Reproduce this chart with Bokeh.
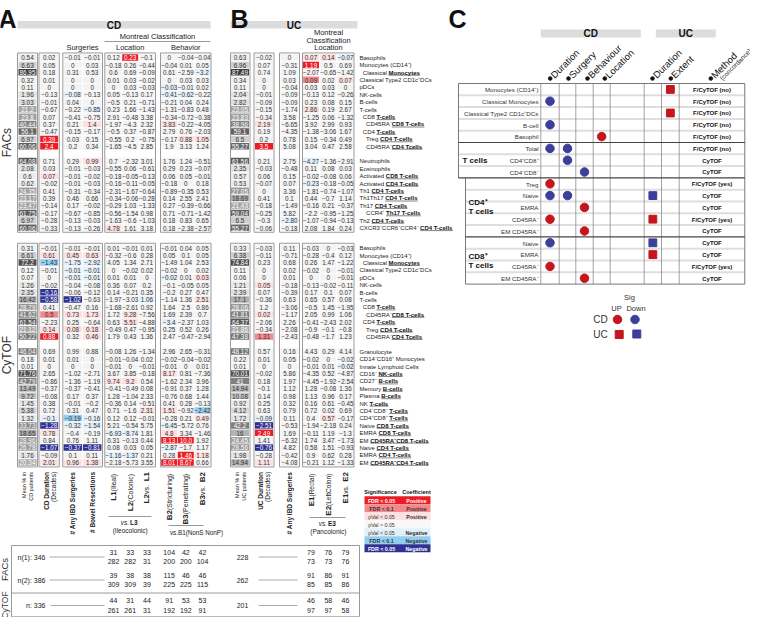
import math
from collections import defaultdict
from bokeh.plotting import figure
from bokeh.models import Range1d, ColumnDataSource
from bokeh.embed import file_html
from bokeh.resources import INLINE
from bokeh.core.properties import value

FONT = "Liberation Sans"

# ------------------------------------------------------------------ data
# Panel A (CD): mean %, duration, any IBD surgeries, bowel resections,
# L1, L2, L2vsL1, B2, B3, B3vsB2
A_FACS_1 = [
    ["0.54", "0.02", "-0.01", "-0.01", "0.12", "0.23", "-0.1", "0", "-0.04", "-0.04"],
    ["6.63", "0.05", "0", "0.03", "-0.18", "0.26", "-0.44", "-0.04", "0.01", "0.05"],
    ["86.95", "0.18", "0.31", "0.53", "0.6", "0.69", "-0.09", "0.61", "-2.59", "-3.2"],
    ["0.32", "0.01", "0", "0", "0.01", "0.03", "-0.02", "0", "0.03", "0.03"],
    ["0.11", "0", "0", "0", "0", "0.03", "-0.03", "-0.03", "-0.01", "0.02"],
    ["1.96", "-0.13", "-0.08", "-0.13", "0.05", "-0.13", "0.17", "-0.41", "-0.62", "-0.22"],
    ["3.03", "-0.01", "0.04", "0", "-0.5", "0.21", "-0.71", "-0.21", "0.04", "0.24"],
    ["21.2", "-0.67", "-0.22", "-0.85", "0.23", "1.66", "-1.43", "-1.31", "-0.83", "0.48"],
    ["23.8", "0.07", "-0.41", "-0.75", "2.91", "-0.48", "3.38", "-0.34", "-0.72", "-0.38"],
    ["40.44", "0.37", "0.21", "1.4", "-1.97", "-4.3", "2.32", "3.83", "-0.22", "-4.05"],
    ["56.1", "-0.47", "-0.15", "-0.17", "-0.5", "0.37", "-0.87", "2.79", "0.76", "-2.03"],
    ["6.97", "0.39", "0.03", "0.15", "-0.55", "0.2", "-0.75", "-0.17", "0.88", "1.05"],
    ["60.06", "2.4", "0.2", "0.34", "-1.65", "-4.5", "2.85", "1.9", "3.13", "1.24"],
]
A_FACS_1_SIG = ["0000F0000", "000000000", "00000000n", "000000000", "000000n00",
                "0n0000nn0", "000000000", "00n000000", "000000000", "00p000p00",
                "000000000", "F000000pp", "F00000000"]
A_FACS_2 = [
    ["64.08", "0.71", "0.29", "0.99", "0.7", "-2.32", "3.01", "1.76", "1.24", "-0.51"],
    ["2.08", "0.03", "-0.01", "-0.03", "-0.55", "0.06", "-0.61", "0.29", "0.23", "-0.07"],
    ["0.6", "0.07", "-0.01", "-0.02", "-0.18", "-0.05", "-0.13", "0.06", "0.05", "-0.01"],
    ["0.62", "-0.02", "-0.01", "-0.03", "-0.16", "-0.11", "-0.05", "-0.18", "0", "0.18"],
    ["24.35", "0.41", "-0.31", "-0.34", "-2.31", "-1.67", "-0.64", "-0.89", "-0.35", "0.53"],
    ["23.17", "0.39", "0.46", "0.66", "-0.34", "-0.06", "-0.28", "0.14", "2.55", "2.41"],
    ["23.47", "-0.14", "0.17", "-0.02", "-0.29", "1.03", "-1.33", "0.27", "-0.39", "-0.66"],
    ["61.75", "-0.17", "-0.67", "-0.85", "-0.56", "-1.54", "0.98", "0.71", "-0.71", "-1.42"],
    ["6.97", "-0.28", "-0.13", "-0.03", "-1.63", "-0.6", "-1.03", "0.18", "0.83", "0.65"],
    ["60.06", "-0.33", "-0.13", "-0.26", "4.78", "1.61", "3.18", "0.18", "-2.38", "-2.57"],
]
A_FACS_2_SIG = ["00p000000", "000000000", "p00000000", "000000000", "000000000",
                "000000000", "000000000", "000000000", "000000000", "000p00000"]
A_CYTOF_1 = [
    ["0.31", "-0.01", "-0.01", "-0.01", "0.01", "-0.01", "0.01", "-0.01", "0.04", "0.05"],
    ["6.61", "0.61", "0.45", "0.63", "-0.32", "-0.6", "0.28", "0.05", "0.1", "0.05"],
    ["72.2", "-1.43", "-1.75", "-2.92", "4.05", "1.34", "2.71", "-1.49", "1.04", "2.53"],
    ["0.12", "-0.01", "-0.01", "-0.01", "0", "-0.02", "0.02", "-0.02", "0", "0.02"],
    ["0.07", "0", "-0.01", "-0.01", "0.01", "0.01", "0", "-0.02", "0.01", "0.03"],
    ["1.26", "-0.02", "-0.04", "-0.08", "0.36", "0.07", "0.2", "-0.1", "-0.05", "0.05"],
    ["2.35", "-0.16", "-0.06", "-0.12", "0.14", "-0.21", "0.35", "-0.2", "0.27", "0.47"],
    ["16.42", "-0.58", "-1.02", "-0.63", "-1.97", "-3.03", "1.06", "-1.14", "1.36", "2.51"],
    ["28.79", "0.41", "-0.47", "0.16", "-1.68", "-2.61", "0.92", "1.64", "2.5", "0.86"],
    ["41.62", "0.5", "0.73", "1.73", "1.72", "9.28", "-7.56", "1.69", "2.39", "0.7"],
    ["61.54", "-2.23", "0.25", "-0.64", "0.63", "5.51", "-4.88", "-3.4", "-2.37", "1.03"],
    ["21.12", "0.14", "0.08", "0.18", "-0.49", "0.47", "-0.95", "0.25", "0.52", "0.26"],
    ["50.22", "0.88", "0.32", "0.46", "1.79", "0.43", "1.36", "2.47", "-0.47", "-2.94"],
]
A_CYTOF_1_SIG = ["000000000", "ppp000000", "bnn000000", "0nn000000", "0nn000n0p",
                 "000000000", "B00000000", "BB000n00p", "000000000", "fpp0p0000",
                 "0000p0n00", "ppp000000", "F0p000000"]
A_CYTOF_2 = [
    ["46.04", "0.69", "0.99", "0.88", "-0.08", "1.26", "-1.34", "2.96", "2.65", "-0.31"],
    ["0.18", "0.01", "0.01", "0", "-0.01", "-0.04", "0.02", "-0.02", "-0.04", "-0.02"],
    ["0.01", "0", "0", "0", "-0.01", "0", "-0.01", "-0.01", "0", "0.01"],
    ["71.76", "2.65", "-1.02", "-2.71", "3.67", "3.85", "-0.18", "8.17", "0.81", "-7.36"],
    ["42.79", "-0.86", "-1.36", "-1.19", "9.74", "9.2", "0.54", "-1.62", "2.34", "3.96"],
    ["13.49", "-0.37", "-0.37", "-0.41", "-0.41", "-0.49", "0.08", "-0.91", "0.37", "1.28"],
    ["9.72", "-0.08", "0.17", "0.37", "1.28", "-1.04", "2.33", "-0.76", "0.68", "1.44"],
    ["1.45", "0.38", "-0.01", "-0.2", "-0.36", "0.14", "-0.51", "0.41", "0.28", "-0.13"],
    ["5.38", "0.72", "0.31", "0.47", "0.71", "-1.6", "2.31", "1.51", "-0.92", "-2.42"],
    ["1.32", "-0.1", "-0.19", "-0.16", "0.12", "0.12", "-0.01", "-0.28", "0.21", "0.49"],
    ["33.73", "-1.28", "-0.32", "-1.54", "5.21", "-0.54", "5.75", "-6.45", "-5.72", "0.76"],
    ["18.65", "0.78", "-0.4", "-0.19", "-6.93", "-8.74", "1.81", "4.8", "3.34", "-1.46"],
    ["28.96", "0.84", "0.76", "1.11", "0.31", "-0.13", "0.44", "8.13", "10.0", "1.92"],
    ["26.78", "-1.07", "-0.37", "-0.81", "0.08", "0.03", "0.05", "-2.87", "-1.7", "1.17"],
    ["1.76", "-0.09", "0.1", "0.11", "-1.16", "-1.37", "0.21", "0.28", "1.46", "1.18"],
    ["20.34", "2.01", "0.96", "1.38", "-2.18", "-5.73", "3.55", "8.01", "8.67", "0.66"],
]
A_CYTOF_2_SIG = ["000000000", "000000000", "000000000", "000000p00", "000pp0000",
                 "000000000", "000000000", "000000000", "00000pp0b", "nbn00000p",
                 "Bnn000n00", "p00nn0p00", "000000FF0", "BBB000n00", "000nn00Fp",
                 "ppp000FF0"]

# Panel B (UC): mean %, duration, any IBD surgeries, E1, E2, E1vsE2
B_FACS_1 = [
    ["0.63", "-0.02", "0", "0.07", "0.14", "-0.07"],
    ["6.96", "0.07", "-0.31", "1.19", "0.5", "0.69"],
    ["87.49", "0.74", "1.09", "-2.07", "-0.65", "-1.42"],
    ["0.34", "0", "0.03", "0.09", "0.02", "0.07"],
    ["0.11", "0", "-0.04", "0.03", "0.03", "0"],
    ["2.04", "-0.01", "-0.09", "-0.13", "0.12", "-0.26"],
    ["2.82", "-0.09", "-0.09", "0.23", "0.08", "0.15"],
    ["23.05", "-0.15", "-1.74", "2.86", "0.19", "2.67"],
    ["23.83", "-0.34", "3.58", "-1.25", "0.06", "-1.32"],
    ["38.96", "2.19", "-6.65", "3.92", "2.99", "0.93"],
    ["59.1", "0.19", "-4.35", "-1.38", "-3.06", "1.67"],
    ["6.5", "0.2", "0.78", "0.15", "-0.34", "0.49"],
    ["55.27", "3.5", "5.08", "3.04", "0.47", "2.58"],
]
B_FACS_1_SIG = ["00ppn", "00F00", "00000", "00f0p", "00000", "00000", "00000",
                "00p00", "00000", "p0000", "00000", "00000", "F0000"]
B_FACS_2 = [
    ["61.56", "0.21", "2.75", "-4.27", "-1.36", "-2.91"],
    ["2.35", "-0.03", "-0.48", "0.11", "0.08", "0.03"],
    ["0.57", "0.06", "0.15", "-0.02", "-0.08", "0.06"],
    ["0.53", "-0.07", "0.07", "-0.23", "-0.18", "-0.05"],
    ["27.05", "0", "3.36", "-1.81", "-0.74", "-1.07"],
    ["18.69", "0.41", "0.1", "0.44", "-0.7", "1.14"],
    ["21.43", "-0.18", "-1.49", "-0.16", "0.21", "-0.37"],
    ["59.04", "-0.25", "5.82", "-2.2", "-0.95", "-1.25"],
    ["6.5", "-0.3", "-2.80", "-1.07", "-0.94", "-0.13"],
    ["55.27", "-0.06", "-0.18", "2.08", "1.84", "0.24"],
]
B_FACS_2_SIG = ["00n00", "00000", "00000", "00n00", "00000", "00000", "00000",
                "00000", "0n000", "00000"]
B_CYTOF_1 = [
    ["0.33", "-0.03", "0.11", "-0.03", "0", "-0.03"],
    ["6.38", "-0.11", "-0.71", "-0.28", "-0.4", "0.12"],
    ["74.84", "0.23", "0.68", "0.26", "1.47", "-1.22"],
    ["0.11", "0", "0.02", "-0.02", "0", "-0.01"],
    ["0.06", "0", "0.01", "0", "0", "-0.01"],
    ["1.21", "0.05", "-0.18", "-0.13", "-0.02", "-0.11"],
    ["2.39", "0.07", "-0.39", "0.17", "0.1", "0.07"],
    ["17.1", "-0.36", "0.63", "0.65", "0.57", "0.08"],
    ["28.06", "1.2", "-3.06", "-0.5", "1.45", "-1.95"],
    ["41.81", "0.02", "-1.17", "2.05", "0.99", "1.06"],
    ["64.37", "-2.06", "2.26", "-0.41", "-2.43", "2.02"],
    ["21.86", "-0.34", "-2.08", "-0.9", "-0.1", "-0.8"],
    ["47.38", "1.31", "-2.43", "-0.48", "-1.7", "1.23"],
]
B_CYTOF_1_SIG = ["00000", "00000", "00000", "00000", "00000", "p0000", "00000",
                 "00000", "00000", "p0000", "00000", "00000", "f0000"]
B_CYTOF_2 = [
    ["48.12", "0.57", "0.16", "4.43", "0.29", "4.14"],
    ["0.22", "0.01", "0.05", "-0.02", "0", "-0.02"],
    ["0.01", "0", "0", "-0.01", "0.01", "-0.02"],
    ["70.01", "-0.02", "5.86", "-4.35", "0.52", "-4.87"],
    ["41", "0.18", "1.97", "-4.45", "-1.92", "-2.54"],
    ["14.94", "-0.1", "1.12", "1.28", "-0.08", "1.36"],
    ["10.08", "0.14", "0.98", "1.13", "0.96", "0.17"],
    ["0.92", "0.25", "0.32", "0.16", "0.61", "-0.45"],
    ["4.12", "0.63", "0.79", "0.72", "0.02", "0.69"],
    ["1.72", "-0.09", "0.11", "0.4", "0.57", "-0.17"],
    ["42.2", "-2.51", "-0.53", "-1.94", "-2.18", "0.24"],
    ["16", "2.49", "1.69", "-0.11", "1.19", "-1.3"],
    ["24.45", "1.41", "-6.32", "1.74", "3.47", "-1.73"],
    ["28.56", "-0.76", "4.82", "0.58", "1.51", "-0.93"],
    ["1.98", "-0.28", "-0.42", "0.9", "0.62", "0.28"],
    ["14.94", "1.11", "-4.08", "-0.21", "1.12", "-1.33"],
]
B_CYTOF_2_SIG = ["00000", "00000", "0000n", "00000", "00000", "00000", "00000",
                 "00000", "00000", "n00p0", "B0000", "F0000", "00000", "B0000",
                 "00000", "p0000"]

# cell type labels: (indent level, plain part, bold-underlined part)
LABELS_1 = [(0, "Basophils", ""), (0, "Monocytes (CD14\u207a)", ""),
            (1, "Classical ", "Monocytes"), (0, "Classical Type2 CD1c\u207aDCs", ""),
            (0, "pDCs", ""), (0, "NK-cells", ""), (0, "B-cells", ""), (0, "T-cells", ""),
            (1, "CD8 ", "T-cells"), (2, "CD45RA\u207b", "CD8 T-cells"),
            (1, "CD4 ", "T-cells"), (2, "Treg ", "CD4 T-cells"),
            (2, "CD45RA\u207b", "CD4 Tcells")]
LABELS_FACS_2 = [(0, "Neutrophils", ""), (0, "Eosinophils", ""),
                 (0, "Activated ", "CD8 T-cells"), (0, "Activated ", "CD4 T-cells"),
                 (0, "Th1 ", "CD4 T-cells"), (0, "Th1Th17 ", "CD4 T-cells"),
                 (0, "Th17 ", "CD4 T-cells"), (2, "CCR4\u207a ", "Th17 T-cells"),
                 (0, "Th2 ", "CD4 T-cells"),
                 (0, "CXCR3\u207bCCR6\u207bCCR4\u207b ", "CD4 T-cells")]
LABELS_CYTOF_2 = [(0, "Granulocyte", ""), (0, "CD14\u207bCD16\u207a Monocytes", ""),
                  (0, "Innate Lymphoid Cells", ""), (0, "CD16\u207b ", "NK-cells"),
                  (0, "CD27\u207b ", "B-cells"), (0, "Memory ", "B-cells"),
                  (0, "Plasma ", "B-cells"), (0, "NK ", "T-cells"),
                  (0, "CD4\u207bCD8\u207b ", "T-cells"), (0, "CD4\u207aCD8\u207a ", "T-cells"),
                  (0, "Naive ", "CD8 T-cells"), (0, "EMRA ", "CD8 T-cells"),
                  (0, "EM ", "CD45RA\u207bCD8 T-cells"), (0, "Naive ", "CD4 T-cells"),
                  (0, "EMRA ", "CD4 T-cells"), (0, "EM ", "CD45RA\u207bCD4 T-cells")]

# sample-size table
N_FACS1 = ["346", "228"]
N_FACS2 = ["386", "262"]
N_CYTOF = ["336", "201"]
LOC_FACS1 = [["31", "33", "33"], ["282", "282", "31"]]
BEH_FACS1 = [["104", "42", "42"], ["200", "200", "104"]]
EXT_FACS1 = [["79", "76", "79"], ["73", "73", "76"]]
LOC_FACS2 = [["39", "38", "38"], ["309", "309", "39"]]
BEH_FACS2 = [["115", "46", "46"], ["225", "225", "115"]]
EXT_FACS2 = [["91", "86", "91"], ["85", "85", "86"]]
LOC_CYTOF = [["44", "31", "44"], ["261", "261", "31"]]
BEH_CYTOF = [["91", "53", "53"], ["192", "192", "91"]]
EXT_CYTOF = [["46", "58", "46"], ["97", "97", "58"]]

LEGEND_SIG = ["FDR < 0.05", "FDR < 0.1", "pVal < 0.05", "pVal > 0.05", "pVal < 0.05", "FDR < 0.1", "FDR < 0.05"]
LEGEND_COEF = ["Positive", "Positive", "Positive", "", "Negative", "Negative", "Negative"]
LEGEND_CODE = ["F", "f", "p", "0", "n", "b", "B"]

# Panel C summary
C_ROWS = ["Monocytes (CD14\u207a)", "Classical Monocytes", "Classical Type2 CD1c\u207aDCs",
          "B-cell", "Basophil", "Total", "CD4\u207aCD8\u207a", "CD4\u207bCD8\u207b",
          "Treg", "Naive", "EMRA", "CD45RA\u207b", "EM CD45RA\u207b",
          "Naive", "EMRA", "CD45RA\u207b", "EM CD45RA\u207b"]
# columns: CD Duration, CD Surgery, CD Behaviour, CD Location, (gap), UC Duration, UC Extent
C_MARKS = ["......u", "d......", "......u", "d......", "...u...", "dd.....", ".d.....",
           "..d....", "u......", "dd...d.", "..u....", "u....u.", "..u....",
           "d....d.", ".....u.", "u......", "..u...."]
C_METHOD = ["F/CyTOF (no)"] * 6 + ["CyTOF", "CyTOF", "F/CyTOF (yes)", "CyTOF", "CyTOF",
                                   "F/CyTOF (yes)", "CyTOF", "CyTOF", "CyTOF",
                                   "F/CyTOF (yes)", "CyTOF"]
C_HEADERS = ["Duration", "Surgery", "Behaviour", "Location", "Duration", "Extent", "Method"]

# ------------------------------------------------------------------ helpers
def _w(groups):
    d = {}
    for w, chars in groups:
        for ch in chars:
            d[ch] = w
    return d

REG_W = _w([(222, "ijl"), (278, " .,:;!/I[]ft"), (333, "()-r"), (500, "ckszvxyJ"),
            (556, "0123456789abdeghnopquL#_"), (584, "+<>=\u2212"), (611, "FTZ"),
            (667, "ABEKPSVXY"), (722, "CDHNRUw"), (778, "GOQ"), (833, "Mm"),
            (889, "%"), (944, "W"), (330, "\u207a\u207b")])
BOLD_W = _w([(278, " .,:;!/Iijl"), (333, "()-tf"), (389, "r"), (500, "z"),
             (556, "0123456789acekvxysJ#"), (611, "bdghnopquLFTZ"), (667, "EPSVXY"),
             (722, "ABCDHKNRU"), (778, "GOQw"), (833, "M"), (889, "m"), (330, "\u207a\u207b")])

def tw(s, size, bold=False):
    t = BOLD_W if bold else REG_W
    return sum(t.get(ch, 556) for ch in s) * size / 1000.0

TEXTS = defaultdict(lambda: dict(x=[], y=[], text=[]))
def T(x, y, s, size=6.0, color="#222222", style="normal", align="center",
      baseline="middle", angle=0.0):
    d = TEXTS[(size, color, style, align, baseline, angle)]
    d["x"].append(x); d["y"].append(y); d["text"].append(s)

FILLS = dict(left=[], right=[], top=[], bottom=[], color=[])
def F(l, r, t, b, c):
    FILLS["left"].append(l); FILLS["right"].append(r)
    FILLS["top"].append(t); FILLS["bottom"].append(b); FILLS["color"].append(c)

LINES = dict(xs=[], ys=[], color=[], width=[])
def L(xs, ys, c="#999999", w=1.0):
    LINES["xs"].append(list(xs)); LINES["ys"].append(list(ys))
    LINES["color"].append(c); LINES["width"].append(w)

MARKS = dict(x=[], y=[], marker=[], size=[], color=[])
def M(x, y, marker, size, c):
    MARKS["x"].append(x); MARKS["y"].append(y); MARKS["marker"].append(marker)
    MARKS["size"].append(size); MARKS["color"].append(c)

def fmt(s):
    return s.replace("-", "\u2212")

def mean_gray(v):
    g = int(max(55, min(246, 246 - 185 * (v / 87.0) ** 0.6)))
    return "#%02x%02x%02x" % (g, g, g), g

SIG_FILL = {"0": "#f3f3f3", "p": "#fde0e0", "f": "#f28a8c", "F": "#ec1c24",
            "n": "#e3f0fa", "b": "#93cdf0", "B": "#2e3192"}

def rot_label(x, ytop, segs, color="#222222"):
    y = ytop
    for text, size, style in reversed(segs):
        T(x, y, text, size, color, style, "right", "middle", math.pi / 2)
        y += tw(text, size, "bold" in style)

# ------------------------------------------------------------------ layout
P = 7.4
CH = 6.5
Y_FACS = [65.0, 168.6]
Y_CYTOF = [255.3, 358.9]
A_COLS = [(35.0, 18), (56.7, 18), (80.3, 18.5), (99.7, 18.5), (121.0, 16), (137.7, 16),
          (154.4, 16), (176.7, 16), (193.3, 16), (210.0, 16)]
A_BOXES = [(25, 45), (46.5, 66.8), (70.3, 110), (112.3, 163), (168, 218.5)]
B_COLS = [(247.5, 18), (271.5, 18), (297.0, 18), (318.5, 16), (335.8, 16), (353.0, 16)]
B_BOXES = [(238, 257.5), (261.5, 281.5), (287, 307), (310, 361.5)]
CELL_FS = 6.3

def draw_section(rows, sigs, cols, y0):
    for i, row in enumerate(rows):
        y = y0 + i * P
        for j, s in enumerate(row):
            cx, w = cols[j]
            if j == 0:
                fill, g = mean_gray(float(s))
                tc = "#ffffff" if g < 170 else "#333333"
            else:
                code = sigs[i][j - 1]
                fill = SIG_FILL[code]
                tc = "#ffffff" if code in "FB" else "#333333"
            F(cx - w / 2, cx + w / 2, y - CH / 2, y + CH / 2, fill)
            T(cx, y + 0.3, fmt(s), CELL_FS, tc)

def draw_boxes(boxes, top, bottom):
    for l, r in boxes:
        L([l, r, r, l, l], [top, top, bottom, bottom, top], "#9a9a9a", 1.0)

# Panel A cells
draw_section(A_FACS_1, A_FACS_1_SIG, A_COLS, Y_FACS[0])
draw_section(A_FACS_2, A_FACS_2_SIG, A_COLS, Y_FACS[1])
draw_section(A_CYTOF_1, A_CYTOF_1_SIG, A_COLS, Y_CYTOF[0])
draw_section(A_CYTOF_2, A_CYTOF_2_SIG, A_COLS, Y_CYTOF[1])
# Panel B cells
draw_section(B_FACS_1, B_FACS_1_SIG, B_COLS, Y_FACS[0])
draw_section(B_FACS_2, B_FACS_2_SIG, B_COLS, Y_FACS[1])
draw_section(B_CYTOF_1, B_CYTOF_1_SIG, B_COLS, Y_CYTOF[0])
draw_section(B_CYTOF_2, B_CYTOF_2_SIG, B_COLS, Y_CYTOF[1])

facs_top = Y_FACS[0] - CH / 2 - 1.3
facs_bot = Y_FACS[1] + (len(A_FACS_2) - 1) * P + CH / 2 + 1.3
cy_top = Y_CYTOF[0] - CH / 2 - 1.3
cy_bot = Y_CYTOF[1] + (len(A_CYTOF_2) - 1) * P + CH / 2 + 1.3
for boxes in (A_BOXES, B_BOXES):
    draw_boxes(boxes, facs_top, facs_bot)
    draw_boxes(boxes, cy_top, cy_bot)

# B labels
LAB_X = 367.0
LAB_FS = 6.0
def draw_labels(labels, y0):
    for i, (lvl, plain, bu) in enumerate(labels):
        y = y0 + i * P
        x = LAB_X + lvl * 3.3
        T(x, y + 0.3, plain, LAB_FS, "#222222", "normal", "left")
        if bu:
            xb = x + tw(plain, LAB_FS)
            T(xb, y + 0.3, bu, LAB_FS, "#111111", "bold", "left")
            L([xb, xb + tw(bu, LAB_FS, True)], [y + 2.9, y + 2.9], "#777777", 0.9)

draw_labels(LABELS_1, Y_FACS[0])
draw_labels(LABELS_FACS_2, Y_FACS[1])
draw_labels(LABELS_1, Y_CYTOF[0])
draw_labels(LABELS_CYTOF_2, Y_CYTOF[1])

# panel letters and headers
T(6, 26, "A", 25, "#111111", "bold", "left", "alphabetic")
T(238, 26, "B", 25, "#111111", "bold", "left", "alphabetic")
T(456, 26, "C", 25, "#111111", "bold", "left", "alphabetic")

F(25, 218, 28.5, 36, "#dcdcdc")
T(121.5, 32.5, "CD", 10, "#111111", "bold")
F(238, 365, 28.5, 36, "#dcdcdc")
T(301.5, 32.5, "UC", 10, "#111111", "bold")

T(165, 44, "Montreal Classification", 7.5, "#222222")
L([112, 218], [49, 49], "#999999", 1)
T(90, 55, "Surgeries", 7.5, "#222222")
T(137.7, 55, "Location", 7.5, "#222222")
T(193.3, 55, "Behavior", 7.5, "#222222")
T(336, 40, "Montreal", 7.5, "#222222")
T(336, 47.5, "Classification", 7.5, "#222222")
T(336, 55, "Location", 7.5, "#222222")

T(14, (facs_top + facs_bot) / 2, "FACs", 12, "#333333", "normal", "center", "middle", math.pi / 2)
T(14, (cy_top + cy_bot) / 2, "CyTOF", 12, "#333333", "normal", "center", "middle", math.pi / 2)

# rotated column labels
YT = cy_bot + 5
rot_label(31, YT, [("Mean % in", 5.5, "normal")])
rot_label(38.5, YT, [("CD patients", 5.5, "normal")])
rot_label(53.5, YT, [("CD Duration", 6.5, "bold")])
rot_label(60.5, YT, [("(Decades)", 6.5, "normal")])
rot_label(80.3, YT, [("# Any IBD Surgeries", 6.5, "bold")])
rot_label(99.7, YT, [("# Bowel Resections", 6.5, "bold")])
rot_label(121.0, YT, [("L1", 8, "bold"), (" (Ileal)", 7, "normal")])
rot_label(137.7, YT, [("L2", 8, "bold"), (" (Colonic)", 7, "normal")])
rot_label(154.4, YT, [("L2", 8, "bold"), (" vs. ", 7, "normal"), ("L1", 8, "bold")])
rot_label(176.7, YT, [("B2", 8, "bold"), (" (Stricturing)", 7, "normal")])
rot_label(193.3, YT, [("B3", 8, "bold"), (" (Penetrating)", 7, "normal")])
rot_label(210.0, YT, [("B3", 8, "bold"), (" vs. ", 7, "normal"), ("B2", 8, "bold")])
rot_label(244.0, YT, [("Mean % in", 5.5, "normal")])
rot_label(251.0, YT, [("UC patients", 5.5, "normal")])
rot_label(268.0, YT, [("UC Duration", 6.5, "bold")])
rot_label(275.0, YT, [("(Decades)", 6.5, "normal")])
rot_label(297.0, YT, [("# Any IBD Surgeries", 6.5, "bold")])
rot_label(318.5, YT, [("E1", 8, "bold"), (" (Rectal)", 6.5, "normal")])
rot_label(335.8, YT, [("E2", 8, "bold"), (" (LeftColon)", 6.5, "normal")])
rot_label(353.0, YT, [("E1", 8, "bold"), (" vs. ", 6.5, "normal"), ("E2", 8, "bold")])

L([116, 159], [524, 524], "#999999", 1)
T(136.5, 530, "vs.", 6.5, "#222222", "italic", "right")
T(137.5, 530, "L3", 6.5, "#222222", "bold", "left")
T(137.7, 538, "(Ileocolonic)", 6.5, "#222222")
L([176, 211], [533, 533], "#999999", 1)
T(204, 540, "vs.B1(NonS NonP)", 6.3, "#222222")
L([317, 353], [525, 525], "#999999", 1)
T(334.5, 531, "vs.", 6.5, "#222222", "italic", "right")
T(335.5, 531, "E3", 6.5, "#222222", "bold", "left")
T(335.8, 539, "(Pancolonic)", 6.5, "#222222")

# sample-size table
TB_L, TB_R, TB_T, TB_B = 19, 367, 553, 624.3
L([TB_L, TB_R, TB_R, TB_L, TB_L], [TB_T, TB_T, TB_B, TB_B, TB_T], "#9a9a9a", 1)
L([TB_L, TB_R], [600.5, 600.5], "#9a9a9a", 1)
T(12, 577, "FACs", 9.5, "#333333", "normal", "center", "middle", math.pi / 2)
T(12, 612.5, "CyTOF", 8.5, "#333333", "normal", "center", "middle", math.pi / 2)
NFS = 7.0
def n_block(label, ns, loc, beh, ext, ymid, line_x0):
    T(53, ymid, label + ns[0], NFS, "#222222", "normal", "right")
    L([line_x0, 112], [ymid, ymid], "#aaaaaa", 1)
    T(250, ymid, ns[1], NFS, "#222222")
    L([266, 305], [ymid, ymid], "#aaaaaa", 1)
    for k in range(2):
        yy = ymid - 4.7 + 9.4 * k
        for j in range(3):
            T(A_COLS[4 + j][0], yy, loc[k][j], NFS)
            T(A_COLS[7 + j][0], yy, beh[k][j], NFS)
            T(B_COLS[3 + j][0], yy, ext[k][j], NFS)
n_block("n(1): ", N_FACS1, LOC_FACS1, BEH_FACS1, EXT_FACS1, 564.5, 57)
n_block("n(2): ", N_FACS2, LOC_FACS2, BEH_FACS2, EXT_FACS2, 587.5, 57)
n_block("n: ", N_CYTOF, LOC_CYTOF, BEH_CYTOF, EXT_CYTOF, 613, 58)

# significance legend
LG_L, LG_R = 372, 438
T(388, 499.5, "Significance", 5.5, "#111111", "bold")
T(424, 499.5, "Coefficient", 5.5, "#111111", "bold")
for i, (s, c, code) in enumerate(zip(LEGEND_SIG, LEGEND_COEF, LEGEND_CODE)):
    yc = 507.7 + 8 * i
    F(LG_L, LG_R, yc - 4, yc + 4, SIG_FILL[code] if code != "0" else "#f8f8f8")
    tc = "#ffffff" if code in "FB" else "#333333"
    T(389, yc + 0.3, s, 5.3, tc, "bold" if code in "FBfb" else "normal")
    T(424, yc + 0.3, c, 5.3, tc, "bold")

# ------------------------------------------------------------------ panel C
C_TOP = 91.0
C_P = 11.8
C_VL = [548.3, 566.7, 583.3, 600.7, 617.7, 651.7, 669.0, 686.7, 752.3]
C_CENT = [(C_VL[k] + C_VL[k + 1]) / 2 for k in range(8)]
C_RED, C_BLUE = "#c4161c", "#3b3f9a"
n_rows = len(C_ROWS)
C_BOT = C_TOP + n_rows * C_P
g1 = C_TOP + 5 * C_P
g2 = C_TOP + 8 * C_P
g3 = C_TOP + 13 * C_P
for i in range(1, n_rows):
    if i in (5, 8, 13):
        continue
    yb = C_TOP + i * C_P
    xl = 466 if i < 8 else 473
    L([xl, C_VL[-1]], [yb, yb], "#dedede", 2.0)
for xv in C_VL[:-1]:
    L([xv, xv], [C_TOP, C_BOT], "#8a8a8a", 0.8)
L([466, C_VL[-1]], [C_TOP, C_TOP], "#777777", 1)
L([466, 466], [C_TOP, g2], "#777777", 1)
L([473, 473], [g2, C_BOT], "#777777", 1)
L([C_VL[-1], C_VL[-1]], [C_TOP, C_BOT], "#777777", 1)
L([466, C_VL[-1]], [g1, g1], "#444444", 1.2)
L([466, C_VL[-1]], [g2, g2], "#444444", 1.2)
L([473, C_VL[-1]], [g3, g3], "#444444", 1.2)
L([473, C_VL[-1]], [C_BOT, C_BOT], "#777777", 1)

for i, (lab, marks, meth) in enumerate(zip(C_ROWS, C_MARKS, C_METHOD)):
    yc = C_TOP + (i + 0.5) * C_P
    T(546, yc + 0.3, lab, 6.2, "#333333", "normal", "right")
    T(C_CENT[7], yc + 0.3, meth, 6.0, "#111111", "bold")
    for k, ch in enumerate(marks):
        if ch == ".":
            continue
        col = C_RED if ch == "u" else C_BLUE
        if k < 4:
            M(C_CENT[k], yc, "circle", 8.5, col)
        else:
            M(C_CENT[k], yc, "square", 7.8, col)

T(470, C_TOP + 6.5 * C_P, "T cells", 8, "#111111", "bold", "left")
T(476, C_TOP + 10.5 * C_P - 4.5, "CD4\u207a", 8, "#111111", "bold", "left")
T(476, C_TOP + 10.5 * C_P + 4.5, "T cells", 8, "#111111", "bold", "left")
T(476, C_TOP + 15 * C_P - 4.5, "CD8\u207a", 8, "#111111", "bold", "left")
T(476, C_TOP + 15 * C_P + 4.5, "T cells", 8, "#111111", "bold", "left")

F(548.3, 648.3, 37, 45, "#dcdcdc")
T(598.3, 41, "CD", 10, "#111111", "bold")
F(663.3, 723.3, 37, 45, "#dcdcdc")
T(693.3, 41, "UC", 10, "#111111", "bold")
C_DOTS = [557.7, 576.0, 595.0, 612.3, 660.0, 678.3, 718.3]
for xd, h in zip(C_DOTS, C_HEADERS):
    M(xd, 86, "circle", 3.6, "#111111")
    T(xd + 2.0, 84.0, h, 9.5, "#111111", "normal", "left", "middle", math.pi / 4)
T(C_DOTS[-1] + 10, 86.5, "(concordance)", 6.5, "#111111", "normal", "left", "middle", math.pi / 4)

# C legend
T(637, 305, "Sig", 7.5, "#333333")
T(624, 316, "UP", 7.5, "#333333")
T(643.5, 316, "Down", 7.5, "#333333")
T(608, 327, "CD", 10, "#333333")
T(608, 342, "UC", 10, "#333333")
M(625, 327, "circle", 8.5, C_RED)
M(642.5, 327, "circle", 8.5, C_BLUE)
M(626.7, 342, "square", 8, C_RED)
M(644.3, 341.5, "square", 8, C_BLUE)

# ------------------------------------------------------------------ render
p = figure(width=750, height=617, x_range=Range1d(8, 758), y_range=Range1d(625, 8),
           output_backend="svg", toolbar_location=None, min_border=0,
           x_axis_location=None, y_axis_location=None)
p.grid.visible = False
p.outline_line_color = None
p.background_fill_color = "white"
p.border_fill_color = "white"

p.quad(left="left", right="right", top="top", bottom="bottom", fill_color="color",
       line_color=None, source=ColumnDataSource(FILLS))
p.multi_line(xs="xs", ys="ys", line_color="color", line_width="width",
             source=ColumnDataSource(LINES))
p.scatter(x="x", y="y", marker="marker", size="size", fill_color="color",
          line_color="color", source=ColumnDataSource(MARKS))
for (size, color, style, align, baseline, angle), d in TEXTS.items():
    p.text(x="x", y="y", text="text", source=ColumnDataSource(d),
           text_font=value(FONT), text_font_size="%.2fpx" % size, text_color=color,
           text_font_style=style, text_align=align, text_baseline=baseline, angle=angle)

open("out.html", "w").write(file_html(p, INLINE))
